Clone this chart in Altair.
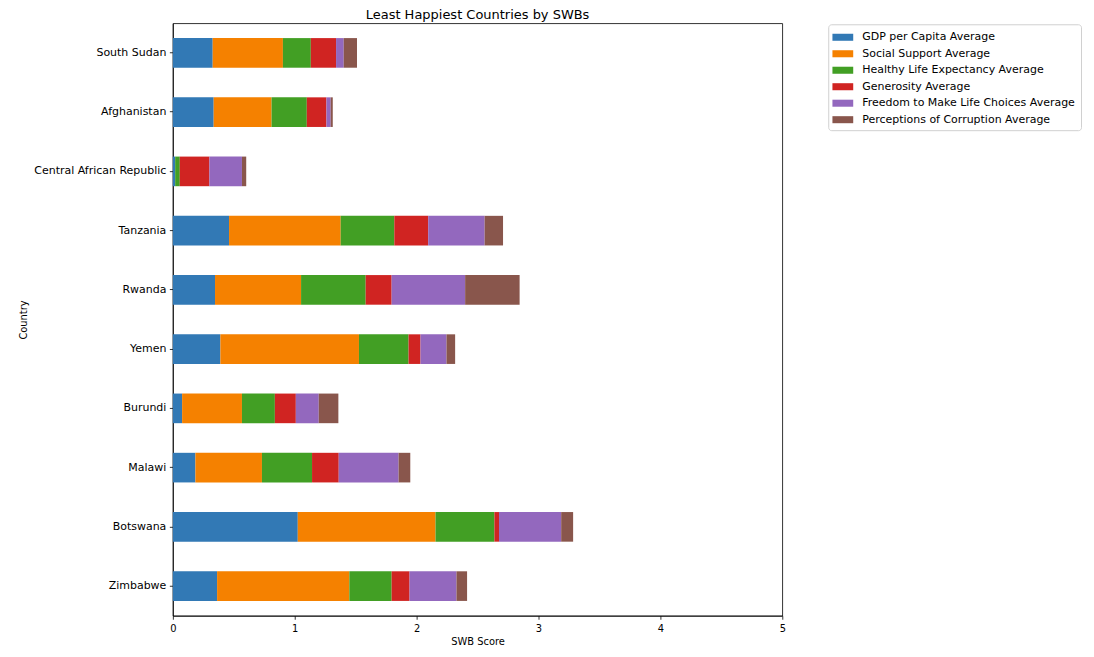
import altair as alt
import pandas as pd

countries = ["South Sudan", "Afghanistan", "Central African Republic", "Tanzania",
             "Rwanda", "Yemen", "Burundi", "Malawi", "Botswana", "Zimbabwe"]
components = ["GDP per Capita Average", "Social Support Average",
              "Healthy Life Expectancy Average", "Generosity Average",
              "Freedom to Make Life Choices Average", "Perceptions of Corruption Average"]
colors = ["#3279b5", "#f58100", "#429f24", "#d02422", "#9368be", "#89564c"]

gdp = [0.327, 0.335, 0.019, 0.461, 0.346, 0.390, 0.076, 0.185, 1.025, 0.363]
social = [0.576, 0.475, 0.0, 0.916, 0.706, 1.137, 0.491, 0.546, 1.130, 1.085]
health = [0.229, 0.289, 0.038, 0.440, 0.530, 0.407, 0.270, 0.411, 0.483, 0.347]
generosity = [0.207, 0.161, 0.243, 0.278, 0.213, 0.098, 0.172, 0.219, 0.038, 0.147]
freedom = [0.063, 0.035, 0.267, 0.463, 0.603, 0.213, 0.188, 0.491, 0.510, 0.385]
corruption = [0.109, 0.017, 0.035, 0.151, 0.447, 0.071, 0.161, 0.096, 0.098, 0.087]

series = [gdp, social, health, generosity, freedom, corruption]
rows = []
for k, (comp, vals) in enumerate(zip(components, series)):
    for c, v in zip(countries, vals):
        rows.append({"Country": c, "Component": comp, "Value": v, "Order": k})
df = pd.DataFrame(rows)

FONT = "DejaVu Sans"
NARROW = "DejaVu Sans Condensed, Liberation Sans Narrow, DejaVu Sans"
rect_path = "M-1.1,-0.44L1.5,-0.44L1.5,0.44L-1.1,0.44Z"

chart = alt.Chart(df).mark_bar().encode(
    y=alt.Y("Country:N", sort=countries,
            scale=alt.Scale(paddingInner=0.5, paddingOuter=0.25),
            axis=alt.Axis(title="Country", titlePadding=5, labelFont=FONT,
                          titleFont=NARROW)),
    x=alt.X("Value:Q", stack="zero",
            scale=alt.Scale(domain=[0, 5], nice=False),
            axis=alt.Axis(title="SWB Score", values=[0, 1, 2, 3, 4, 5], format="d",
                          titlePadding=2, labelPadding=3, labelFont=NARROW,
                          titleFont=NARROW, labelFlush=False)),
    color=alt.Color("Component:N", sort=components,
                    scale=alt.Scale(domain=components, range=colors),
                    legend=alt.Legend(title=None, orient="none", legendX=656, legendY=1,
                                      symbolType=rect_path, symbolSize=256,
                                      symbolStrokeWidth=0, symbolOpacity=1,
                                      labelFontSize=11, labelFont=FONT, labelColor="black",
                                      labelOffset=13, rowPadding=3.5,
                                      padding=5, strokeColor="#d0d0d0", cornerRadius=3,
                                      fillColor="white", labelLimit=400)),
    order=alt.Order("Order:Q", sort="ascending"),
).properties(
    width=610, height=593,
    title=alt.Title("Least Happiest Countries by SWBs", fontSize=13, fontWeight="normal",
                    font=FONT, color="black", offset=1),
    autosize=alt.AutoSizeParams(type="none"),
    padding={"left": 165, "top": 15, "right": 304, "bottom": 32},
).configure_view(
    stroke="black", strokeWidth=0.8
).configure_axis(
    labelFontSize=11, titleFontSize=11,
    titleFontWeight="normal", labelColor="black", titleColor="black",
    domainColor="black", tickColor="black", domainWidth=0.8, tickWidth=0.8,
    tickSize=3.5, labelPadding=3.5, grid=False,
)

chart.save("out.html", embed_options={"renderer": "svg", "actions": False})
